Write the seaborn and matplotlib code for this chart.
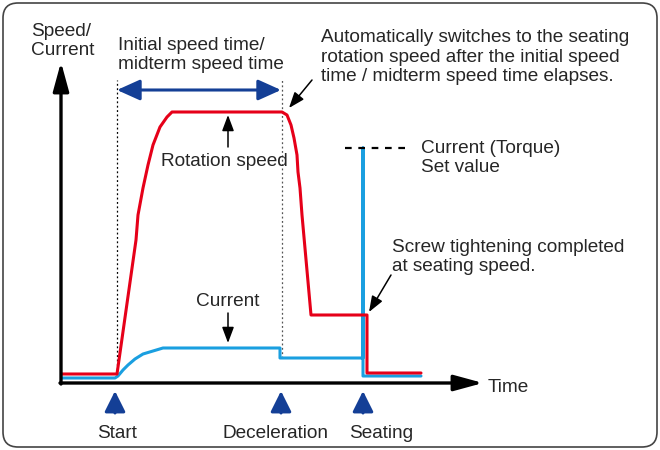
import matplotlib
matplotlib.use("Agg")
import matplotlib.pyplot as plt
import seaborn as sns
from matplotlib.patches import FancyBboxPatch

# units: time / level in the diagram's own scale (origin = axis corner)
speed_t = [1, 56, 75, 77, 82, 87, 92, 99, 106, 111, 221, 226, 230, 233, 236, 237, 239, 241, 250, 306, 306, 360]
speed_v = [9, 9, 143, 168, 195, 218, 238, 256, 266, 271, 271, 268, 258, 245, 228, 211, 195, 168, 68, 68, 10, 10]

current_t = [1, 54, 57, 62, 67, 74, 82, 92, 102, 219, 219, 302, 302, 302, 360]
current_v = [5, 5, 7, 13, 18, 24, 29, 32, 35, 35, 25, 25, 235, 7, 7]

set_value = 235
set_value_span = [284, 349]
speed_time_span = [56, 220]
event_t = [54, 220, 302]
event_labels = ["Start", "Deceleration", "Seating"]

RED = "#e60019"
BLUE = "#1a9fe0"
NAVY = "#143f96"

sns.set_theme(style="white")
plt.rcParams["font.family"] = ["Liberation Sans", "DejaVu Sans"]
FS = 13.7
LS = 1.2

fig = plt.figure(figsize=(6.6, 4.5), dpi=100)
ax = fig.add_axes([0, 0, 1, 1])
ax.set_xlim(-61, 599)
ax.set_ylim(-67, 383)
ax.axis("off")

# rounded frame
ax.add_patch(FancyBboxPatch((-45, -51), 628, 418, boxstyle="round,pad=13,rounding_size=15",
                            fc="white", ec="#444444", lw=1.2, zorder=0))

# axes with arrows
ax.annotate("", xy=(0, 321), xytext=(0, -1),
            arrowprops=dict(arrowstyle="-|>,head_length=1.1,head_width=0.3", color="black",
                            lw=2.4, shrinkA=0, shrinkB=0, mutation_scale=16))
ax.annotate("", xy=(422, 0), xytext=(-1, 0),
            arrowprops=dict(arrowstyle="-|>,head_length=1.1,head_width=0.3", color="black",
                            lw=2.4, shrinkA=0, shrinkB=0, mutation_scale=16))

# dotted guides
ax.plot([speed_time_span[0]] * 2, [speed_v[1], 303], color="black", lw=0.9, ls=(0, (1.5, 2)))
ax.plot([221, 221], [current_v[10], 303], color="#555555", lw=0.9, ls=(0, (1.5, 2)))

# curves
sns.lineplot(x=current_t, y=current_v, sort=False, estimator=None, color=BLUE, lw=2.2, ax=ax,
             solid_joinstyle="round")
sns.lineplot(x=speed_t, y=speed_v, sort=False, estimator=None, color=RED, lw=2.2, ax=ax,
             solid_joinstyle="round")

# set value dashed
ax.plot(set_value_span, [set_value] * 2, color="black", lw=1.6, ls=(0, (3, 3)))

# time span double arrow
ax.annotate("", xy=(speed_time_span[1], 293), xytext=(speed_time_span[0], 293),
            arrowprops=dict(arrowstyle="<|-|>,head_length=1.0,head_width=0.45", color=NAVY,
                            lw=2.2, shrinkA=0, shrinkB=0, mutation_scale=14))

# event arrows and labels
label_dx = [2, -5, 18]
for t, lab, dx in zip(event_t, event_labels, label_dx):
    ax.annotate("", xy=(t, -8), xytext=(t, -30),
                arrowprops=dict(arrowstyle="-|>,head_length=0.9,head_width=0.45", color=NAVY,
                                lw=2.2, shrinkA=0, shrinkB=0, mutation_scale=14))
    ax.text(t + dx, -50, lab, ha="center", va="center", fontsize=FS)

# callout arrows
def callout(head, tail):
    ax.annotate("", xy=head, xytext=tail,
                arrowprops=dict(arrowstyle="-|>,head_length=0.8,head_width=0.3", color="black",
                                lw=1.1, shrinkA=0, shrinkB=0, mutation_scale=12))

callout((167, 268), (167, 236))
callout((167, 40), (167, 70))
callout((228, 275), (251, 303))
callout((308, 71), (330, 108))

# texts
ax.text(-30, 342, "Speed/\nCurrent", ha="left", va="center", fontsize=FS, linespacing=LS)
ax.text(57, 328, "Initial speed time/\nmidterm speed time", ha="left", va="center",
        fontsize=FS, linespacing=LS)
ax.text(260, 326, "Automatically switches to the seating\nrotation speed after the initial speed\n"
        "time / midterm speed time elapses.", ha="left", va="center", fontsize=FS, linespacing=LS)
ax.text(100, 222, "Rotation speed", ha="left", va="center", fontsize=FS)
ax.text(167, 81, "Current", ha="center", va="center", fontsize=FS)
ax.text(360, 225, "Current (Torque)\nSet value", ha="left", va="center", fontsize=FS, linespacing=LS)
ax.text(331, 126, "Screw tightening completed\nat seating speed.", ha="left", va="center",
        fontsize=FS, linespacing=LS)
ax.text(427, -4, "Time", ha="left", va="center", fontsize=FS)

fig.savefig("out.png", dpi=100)
